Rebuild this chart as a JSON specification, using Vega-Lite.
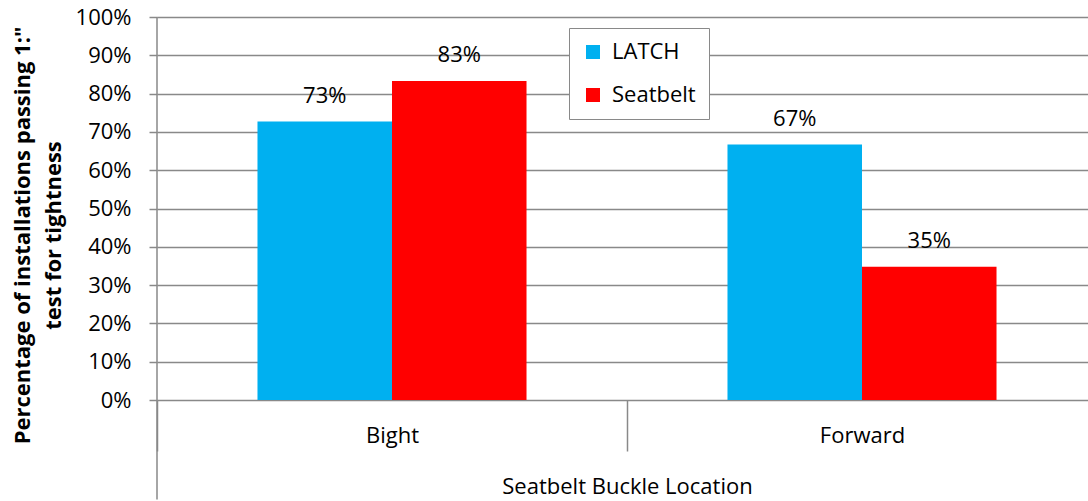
{
  "$schema": "https://vega.github.io/schema/vega-lite/v6.json",
  "autosize": {"type": "none"},
  "padding": {"left": 157, "top": 17, "right": 0, "bottom": 101},
  "width": 931,
  "height": 383,
  "background": "white",
  "config": {
    "font": "Open Sans",
    "view": {"stroke": null}
  },
  "data": {
    "values": [
      {"loc": "Bight", "series": "LATCH", "v": 0.727},
      {"loc": "Bight", "series": "Seatbelt", "v": 0.833},
      {"loc": "Forward", "series": "LATCH", "v": 0.667},
      {"loc": "Forward", "series": "Seatbelt", "v": 0.348}
    ]
  },
  "encoding": {
    "x": {
      "field": "loc",
      "type": "nominal",
      "sort": ["Bight", "Forward"],
      "scale": {"range": [0, 940], "paddingInner": 0, "paddingOuter": 0},
      "axis": {
        "title": "Seatbelt Buckle Location",
        "titleFont": "Open Sans",
        "titleFontSize": 22,
        "titleFontWeight": "normal",
        "titleColor": "black",
        "titleX": 470,
        "titleY": 93,
        "titleAlign": "center",
        "titleBaseline": "alphabetic",
        "labelAngle": 0,
        "labelFont": "Open Sans",
        "labelFontSize": 22,
        "labelColor": "black",
        "labelBaseline": "alphabetic",
        "labelPadding": -9,
        "tickBand": "extent",
        "tickSize": 51,
        "tickColor": "#898989",
        "tickWidth": 1.5,
        "domain": false,
        "grid": false
      }
    },
    "y": {
      "field": "v",
      "type": "quantitative",
      "scale": {"domain": [0, 1], "nice": false},
      "axis": {
        "values": [0, 0.1, 0.2, 0.3, 0.4, 0.5, 0.6, 0.7, 0.8, 0.9, 1],
        "format": ".0%",
        "title": ["Percentage of installations passing 1:\"", "test for tightness"],
        "titleFont": "Open Sans",
        "titleFontSize": 22,
        "titleFontWeight": "bold",
        "titleColor": "black",
        "titleAngle": 270,
        "titleAlign": "center",
        "titleBaseline": "top",
        "titleX": -145,
        "titleY": 218,
        "titleLineHeight": 31,
        "labelFont": "Open Sans",
        "labelFontSize": 22,
        "labelColor": "black",
        "labelPadding": 18,
        "tickSize": 8,
        "tickColor": "#898989",
        "tickWidth": 1.5,
        "domain": false,
        "grid": true,
        "gridColor": "#898989",
        "gridWidth": 1.5
      }
    }
  },
  "layer": [
    {
      "mark": {"type": "bar"},
      "encoding": {
        "xOffset": {
          "field": "series",
          "type": "nominal",
          "scale": {"paddingInner": 0, "paddingOuter": 0.747}
        },
        "color": {
          "field": "series",
          "type": "nominal",
          "scale": {"domain": ["LATCH", "Seatbelt"], "range": ["#00B0F0", "#FF0000"]},
          "legend": {
            "orient": "none",
            "legendX": 412,
            "legendY": 11,
            "title": null,
            "symbolType": "square",
            "symbolSize": 196,
            "symbolStrokeWidth": 0,
            "labelFont": "Open Sans",
            "labelFontSize": 22,
            "labelColor": "black",
            "labelOffset": 8,
            "strokeColor": "#898989",
            "fillColor": "white",
            "padding": 13,
            "rowPadding": 21
          }
        }
      }
    },
    {
      "mark": {"type": "text", "dy": -19, "baseline": "alphabetic", "align": "center", "fontSize": 22, "font": "Open Sans", "color": "black"},
      "encoding": {
        "xOffset": {
          "field": "series",
          "type": "nominal",
          "scale": {"paddingInner": 0, "paddingOuter": 0.747}
        },
        "text": {"field": "v", "type": "quantitative", "format": ".0%"}
      }
    },
    {
      "transform": [{"filter": "datum.loc === 'Bight' && datum.series === 'LATCH'"}],
      "mark": {"type": "rule", "color": "#898989", "strokeWidth": 1.5},
      "encoding": {
        "x": {"field": "loc", "type": "nominal", "bandPosition": 0},
        "y": {"datum": 1, "type": "quantitative"},
        "y2": {"datum": -0.26}
      }
    }
  ]
}
